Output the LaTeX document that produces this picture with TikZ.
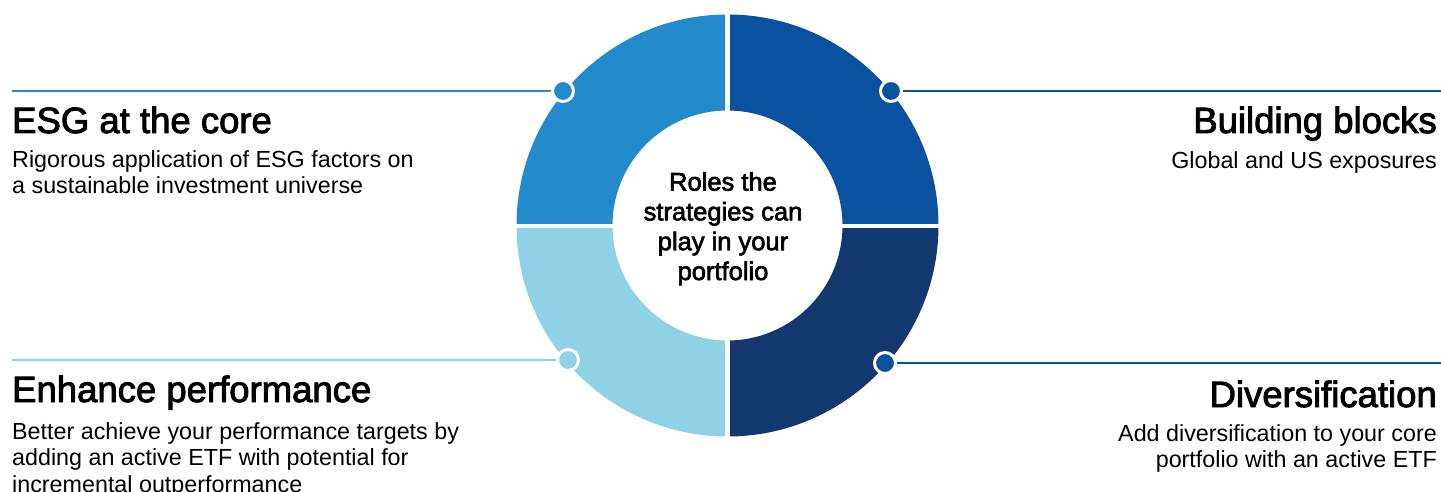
\documentclass[tikz,border=0pt]{standalone}
\usepackage{fontspec}
\setmainfont{Liberation Sans}
\newfontfamily\medfont{Liberation Sans}[FakeBold=2.5]
\definecolor{cTL}{HTML}{238BCB}
\definecolor{cTR}{HTML}{0A52A0}
\definecolor{cBL}{HTML}{8FD1E5}
\definecolor{cBR}{HTML}{13376F}
\begin{document}
\begin{tikzpicture}[x=1pt,y=-1pt,
  dot/.style={circle, minimum size=21pt, inner sep=0pt, draw=white, line width=3pt},
  conn/.style={line width=2pt},
  title/.style={inner sep=0pt, font=\medfont\fontsize{36.5}{40}\selectfont},
  bodyl/.style={inner sep=0pt, align=left, font=\fontsize{23.3}{26.5}\selectfont},
  bodyr/.style={inner sep=0pt, align=right, font=\fontsize{23.3}{26.5}\selectfont},
  centertext/.style={inner sep=0pt, align=center, font=\medfont\fontsize{25.5}{29.8}\selectfont}]
\useasboundingbox (0,0) rectangle (1441,492);
\coordinate (C) at (727.5,225.5);
% ring quadrants
\begin{scope}
  \clip (500,0) rectangle (725,223);
  \fill[cTL, even odd rule] (C) circle[radius=211pt] (C) circle[radius=115pt];
\end{scope}
\begin{scope}
  \clip (730,0) rectangle (960,223);
  \fill[cTR, even odd rule] (C) circle[radius=211pt] (C) circle[radius=115pt];
\end{scope}
\begin{scope}
  \clip (500,228) rectangle (725,460);
  \fill[cBL, even odd rule] (C) circle[radius=211pt] (C) circle[radius=115pt];
\end{scope}
\begin{scope}
  \clip (730,228) rectangle (960,460);
  \fill[cBR, even odd rule] (C) circle[radius=211pt] (C) circle[radius=115pt];
\end{scope}
% center text (anchor at baseline of last line)
\node[centertext, anchor=base] (ctr) at (723,280) {Roles the\\strategies can\\play in your\\portfolio};
% dots
\node[dot, fill=cTL] (dTL) at (563,91) {};
\node[dot, fill=cTR] (dTR) at (891,91) {};
\node[dot, fill=cBL] (dBL) at (568,360) {};
\node[dot, fill=cTR] (dBR) at (885,363) {};
% line ends
\coordinate (eTL) at (12,91);
\coordinate (eTR) at (1441,91);
\coordinate (eBL) at (12,360);
\coordinate (eBR) at (1441,363);
\draw[conn, cTL] (eTL) -- (dTL);
\draw[conn, cTR] (dTR) -- (eTR);
\draw[conn, cBL] (eBL) -- (dBL);
\draw[conn, cTR] (dBR) -- (eBR);
% texts (multi-line nodes anchored at baseline of last line)
\node[title, anchor=base west] (tTL) at (12,133) {ESG at the core};
\node[bodyl, anchor=base west] (bTL) at (12,193.5) {Rigorous application of ESG factors on\\a sustainable investment universe};
\node[title, anchor=base east] (tTR) at (1437,133) {Building blocks};
\node[bodyr, anchor=base east] (bTR) at (1437,168) {Global and US exposures};
\node[title, anchor=base west] (tBL) at (12,402) {Enhance performance};
\node[bodyl, anchor=base west] (bBL) at (12,492) {Better achieve your performance targets by\\adding an active ETF with potential for\\incremental outperformance};
\node[title, anchor=base east] (tBR) at (1437,407) {Diversification};
\node[bodyr, anchor=base east] (bBR) at (1437,467.5) {Add diversification to your core\\portfolio with an active ETF};
\end{tikzpicture}
\end{document}
